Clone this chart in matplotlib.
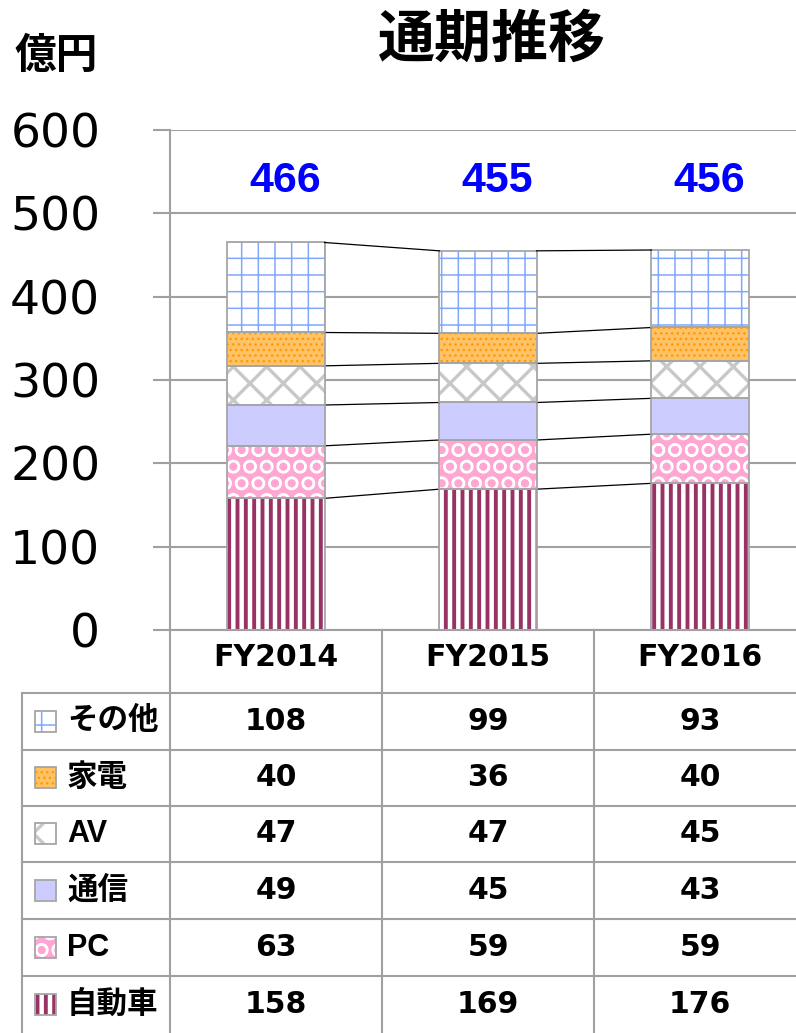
import matplotlib
import matplotlib.pyplot as plt
from matplotlib.patches import Rectangle
from matplotlib.lines import Line2D
from matplotlib.transforms import blended_transform_factory
import numpy as np

plt.switch_backend('agg')
plt.rcParams['font.family'] = ['DejaVu Sans', 'Noto Sans CJK JP']

# data
years = ['FY2014', 'FY2015', 'FY2016']
totals = [466, 455, 456]
segments = ['自動車', 'PC', '通信', 'AV', '家電', 'その他']
car = [158, 169, 176]
pc = [63, 59, 59]
tsushin = [49, 45, 43]
av = [47, 47, 45]
kaden = [40, 36, 40]
other = [108, 99, 93]
series = [car, pc, tsushin, av, kaden, other]

# face colour, hatch, hatch colour, hatch linewidth
styles = [('white', '||', '#993366', 2.8),
          ('#ffa6d2', 'O', 'white', 1.6),
          ('#ccccff', '', '#ccccff', 1.0),
          ('white', 'x', '#c8c8c8', 2.4),
          ('#ffc266', '...', '#ff9900', 1.0),
          ('white', '+', '#80a8ff', 1.1)]

W, H = 796, 1033
GRAY = '#a0a0a0'
JP = ['Liberation Sans', 'Noto Sans CJK JP']

def set_hatch_lw(p, lw):
    if hasattr(p, 'set_hatch_linewidth'):
        p.set_hatch_linewidth(lw)

fig = plt.figure(figsize=(W / 100, H / 100), dpi=100)
ax = fig.add_axes([170 / W, 1 - 630 / H, 636 / W, 500 / H])

x = np.arange(len(years))
bw = 0.458
bottoms = np.zeros(len(years))
for vals, (fc, hat, hc, hlw) in zip(series, styles):
    vals = np.array(vals)
    matplotlib.rcParams['hatch.linewidth'] = hlw
    bars = ax.bar(x, vals, bw, bottom=bottoms, color=fc, hatch=hat,
                  edgecolor=hc, linewidth=0, zorder=2)
    for b in bars:
        set_hatch_lw(b, hlw)
    ax.bar(x, vals, bw, bottom=bottoms, fill=False, edgecolor='#a6a6a6',
           linewidth=1.3, zorder=3)
    top = bottoms + vals
    for i in range(len(years) - 1):
        ax.plot([x[i] + bw / 2, x[i + 1] - bw / 2], [top[i], top[i + 1]],
                color='black', lw=0.9, zorder=3)
    bottoms = top

for i, t in enumerate(totals):
    ax.text(x[i] + 0.045, 539, str(t), ha='center', va='center', color='#0000ff',
            fontsize=31, fontweight='bold', family='Liberation Sans')

ax.set_xlim(-0.5, 2.5)
ax.set_ylim(0, 600)
ax.set_yticks(range(0, 601, 100))
ax.set_xticks([])
ax.yaxis.grid(True, color=GRAY, lw=1.5)
ax.set_axisbelow(True)
ax.tick_params(axis='y', length=12.2, width=1.5, color=GRAY, pad=38, labelsize=34)
for s in ['top', 'right']:
    ax.spines[s].set_visible(False)
for s in ['left', 'bottom']:
    ax.spines[s].set_color(GRAY)
    ax.spines[s].set_linewidth(1.5)

fig.text(492 / W, 1 - 42 / H, '通期推移', ha='center', va='center',
         fontsize=41, fontweight='bold', family=JP)
fig.text(56 / W, 1 - 57 / H, '億円', ha='center', va='center',
         fontsize=30, fontweight='bold', family=JP)

# table below the chart
def hline(y, x0, x1):
    fig.add_artist(Line2D([x0 / W, x1 / W], [1 - y / H, 1 - y / H],
                          color=GRAY, lw=1.5, transform=fig.transFigure))

def vline(xp, y0, y1):
    fig.add_artist(Line2D([xp / W, xp / W], [1 - y0 / H, 1 - y1 / H],
                          color=GRAY, lw=1.5, transform=fig.transFigure))

row_edges = [693, 750, 806, 862, 919, 976, 1033]
for y in row_edges[:-1]:
    hline(y, 22, W)
vline(22, 693, H)
vline(170, 630, H)
vline(382, 630, H)
vline(594, 630, H)

tr = blended_transform_factory(ax.transData, fig.transFigure)
for i, yr in enumerate(years):
    fig.text(x[i], 1 - 658 / H, yr, transform=tr, ha='center', va='center',
             fontsize=21.5, fontweight='bold')

for k, si in enumerate(range(len(segments) - 1, -1, -1)):
    yc = (row_edges[k] + row_edges[k + 1]) / 2
    fc, hat, hc, hlw = styles[si]
    matplotlib.rcParams['hatch.linewidth'] = hlw
    sw = Rectangle((35 / W, 1 - (yc + 10) / H), 21 / W, 21 / H, transform=fig.transFigure,
                   facecolor=fc, hatch=hat, edgecolor=hc, linewidth=0)
    set_hatch_lw(sw, hlw)
    fig.add_artist(sw)
    fig.add_artist(Rectangle((35 / W, 1 - (yc + 10) / H), 21 / W, 21 / H,
                             transform=fig.transFigure, fill=False,
                             edgecolor='#a6a6a6', linewidth=1.3))
    fig.text(67 / W, 1 - yc / H, segments[si], ha='left', va='center',
             fontsize=22, fontweight='bold', family=JP)
    for i in range(len(years)):
        fig.text(x[i], 1 - yc / H, str(series[si][i]), transform=tr,
                 ha='center', va='center', fontsize=21.5, fontweight='bold')

plt.savefig('out.png', dpi=100)
